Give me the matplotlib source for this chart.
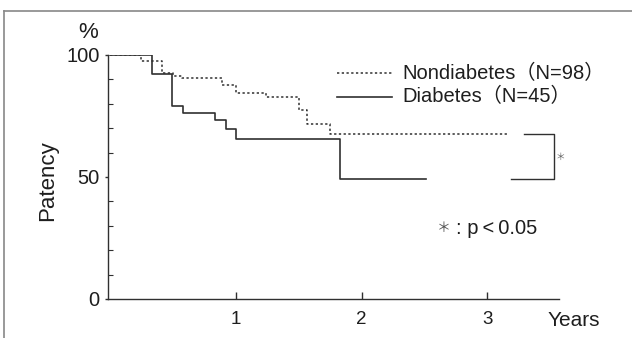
import matplotlib
matplotlib.use("Agg")
from matplotlib import pyplot as plt
from matplotlib.lines import Line2D

plt.rcParams['font.family'] = ['Liberation Sans', 'Noto Sans CJK JP', 'DejaVu Sans']

# Kaplan-Meier step curves (years, patency %)
nondiab_years = [0, 0.25, 0.41, 0.50, 0.57, 0.89, 1.00, 1.24, 1.50, 1.57, 1.75, 3.16]
nondiab_patency = [100, 97.5, 92.5, 91.5, 90.4, 87.7, 84.5, 82.9, 77.5, 71.7, 67.5, 67.5]
diab_years = [0, 0.33, 0.495, 0.577, 0.833, 0.92, 1.00, 1.825, 2.51]
diab_patency = [100, 92.2, 79.1, 76.1, 73.4, 69.7, 65.6, 49.0, 49.0]

labels = ['Nondiabetes（N=98）', 'Diabetes（N=45）']
x_ticks = [1, 2, 3]
y_ticks = [0, 50, 100]
y_minor = [10, 20, 30, 40, 60, 70, 80, 90]

ink = '#1e1e1e'
line_col = '#303030'
dotted = (0, (1.5, 1.6))

fig = plt.figure(figsize=(6.32, 3.38), dpi=100)
ax = fig.add_axes([108 / 632, 39 / 338, 451 / 632, 244 / 338])

ax.step(nondiab_years, nondiab_patency, where='post', color=line_col, lw=1.1, ls=dotted)
ax.step(diab_years, diab_patency, where='post', color=line_col, lw=1.2)

ax.set_xlim(-0.016, 3.57)
ax.set_ylim(0, 100)
for s in ['top', 'right']:
    ax.spines[s].set_visible(False)
for s in ['left', 'bottom']:
    ax.spines[s].set_color(line_col)
    ax.spines[s].set_linewidth(1.0)

ax.set_xticks(x_ticks)
ax.set_xticklabels([str(v) for v in x_ticks])
ax.set_yticks(y_ticks)
ax.set_yticklabels([str(v) for v in y_ticks])
ax.set_yticks(y_minor, minor=True)
ax.tick_params(axis='x', direction='in', length=5, width=1, colors=line_col,
               labelcolor=ink, labelsize=13.5, pad=9)
ax.tick_params(axis='y', which='major', direction='out', length=2.5, width=1,
               colors=line_col, labelcolor=ink, labelsize=14.5, pad=3.5)
ax.tick_params(axis='y', which='minor', direction='in', length=3.5, width=0.8,
               colors=line_col)

# legend drawn by hand
ax.plot([0.508, 0.630], [0.926, 0.926], transform=ax.transAxes, color=line_col,
        lw=1.1, ls=dotted, clip_on=False)
ax.plot([0.508, 0.630], [0.828, 0.828], transform=ax.transAxes, color=line_col,
        lw=1.2, clip_on=False)
ax.text(0.652, 0.926, labels[0], transform=ax.transAxes, fontsize=14.5,
        color=ink, va='center', ha='left')
ax.text(0.652, 0.828, labels[1], transform=ax.transAxes, fontsize=14.5,
        color=ink, va='center', ha='left')

# significance bracket between the two end levels
top = nondiab_patency[-1]
bot = diab_patency[-1]
ax.plot([3.29, 3.53, 3.53, 3.19], [top, top, bot, bot], color=line_col, lw=1.0,
        clip_on=False)
ax.text(3.585, (top + bot) / 2, '＊', fontsize=7, color='#666666',
        ha='center', va='center', clip_on=False)
ax.text(2.60, 29, '＊', fontsize=10, color='#555555', ha='left', va='center')
ax.text(2.75, 29, ': p\u2009<\u20090.05', fontsize=14.5, color=ink, ha='left', va='center')

fig.text(88 / 632, 1 - 33 / 338, '%', fontsize=16, color=ink, ha='center', va='center')
fig.text(48 / 632, 1 - 181 / 338, 'Patency', fontsize=16, color=ink, rotation=90,
         ha='center', va='center')
fig.text(574 / 632, 1 - 320 / 338, 'Years', fontsize=15, color=ink,
         ha='center', va='center')

# page border
fig.add_artist(Line2D([4 / 632, 1.0], [1 - 11 / 338, 1 - 11 / 338], color='#888888', lw=1.2))
fig.add_artist(Line2D([4 / 632, 4 / 632], [0, 1 - 11 / 338], color='#888888', lw=1.2))

fig.savefig('out.png', dpi=100)
